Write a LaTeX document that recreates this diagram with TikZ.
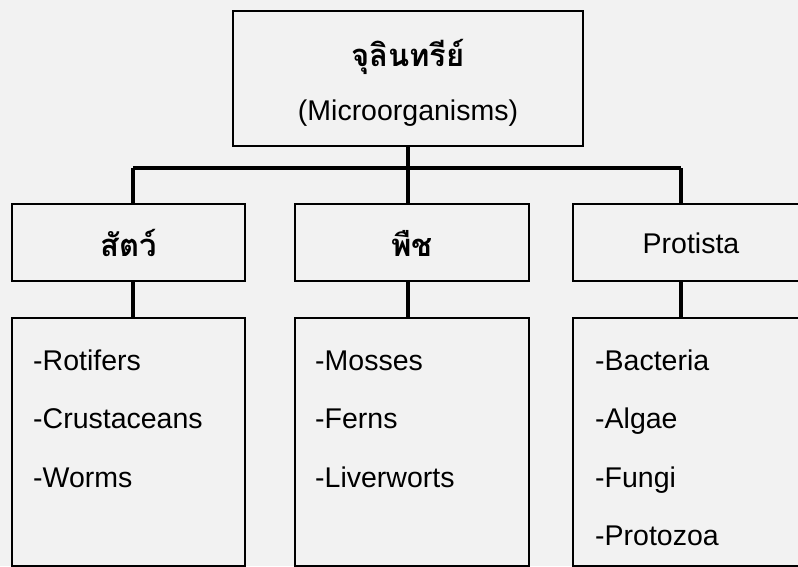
\documentclass[tikz,border=0pt]{standalone}
\usepackage{fontspec}
\setmainfont{Liberation Sans}
\newfontfamily\thaifont[Script=Thai]{Loma}
\begin{document}
\begin{tikzpicture}[x=1pt,y=-1pt,
  box/.style={draw=black, line width=2.2pt, inner sep=0pt, fill=none},
  conn/.style={draw=black, line width=4pt},
  lbl/.style={inner sep=0pt, anchor=base, font=\fontsize{28.5}{34}\selectfont},
  tlbl/.style={inner sep=0pt, anchor=base, font=\fontsize{31}{36}\selectfont\thaifont\bfseries},
  item/.style={lbl, anchor=base west}]
\fill[white!95!black] (0,0) rectangle (798,566);
\useasboundingbox (0,0) rectangle (798,566);
\begin{scope}
\clip (0,0) rectangle (798,566);
% top
\node[box, minimum width=350pt, minimum height=135pt] (top) at (408,78.5) {};
\node[tlbl] (topth) at (408,66) {จุลินทรีย์};
\node[lbl] (topen) at (408,120) {(Microorganisms)};
% level 2
\node[box, minimum width=233pt, minimum height=77pt] (a1) at (128.5,242.5) {};
\node[box, minimum width=234pt, minimum height=77pt] (a2) at (412,242.5) {};
\node[box, minimum width=236pt, minimum height=77pt] (a3) at (691,242.5) {};
\node[tlbl] (a1t) at (128.5,256) {สัตว์};
\node[tlbl] (a2t) at (412,256) {พืช};
\node[lbl] (a3t) at (691,253) {Protista};
% level 3
\node[box, minimum width=233pt, minimum height=248pt] (b1) at (128.5,442) {};
\node[box, minimum width=234pt, minimum height=248pt] (b2) at (412,442) {};
\node[box, minimum width=236pt, minimum height=248pt] (b3) at (691,442) {};
\node[item] (r1) at (33,370) {-Rotifers};
\node[item] (r2) at (33,428) {-Crustaceans};
\node[item] (r3) at (33,487) {-Worms};
\node[item] (m1) at (315,370) {-Mosses};
\node[item] (m2) at (315,428) {-Ferns};
\node[item] (m3) at (315,487) {-Liverworts};
\node[item] (p1) at (595,370) {-Bacteria};
\node[item] (p2) at (595,428) {-Algae};
\node[item] (p3) at (595,487) {-Fungi};
\node[item] (p4) at (595,545) {-Protozoa};
% connectors
\coordinate (jL) at (133,168);
\coordinate (jR) at (681,168);
\draw[conn] (jL) -- (jR);
\draw[conn] (top.south) -- (top.south |- a2.north);
\draw[conn] (jL) -- (jL |- a1.north);
\draw[conn] (jR) -- (jR |- a3.north);
\draw[conn] (jL |- a1.south) -- (jL |- b1.north);
\draw[conn] (top.south |- a2.south) -- (top.south |- b2.north);
\draw[conn] (jR |- a3.south) -- (jR |- b3.north);
\end{scope}
\end{tikzpicture}
\end{document}
